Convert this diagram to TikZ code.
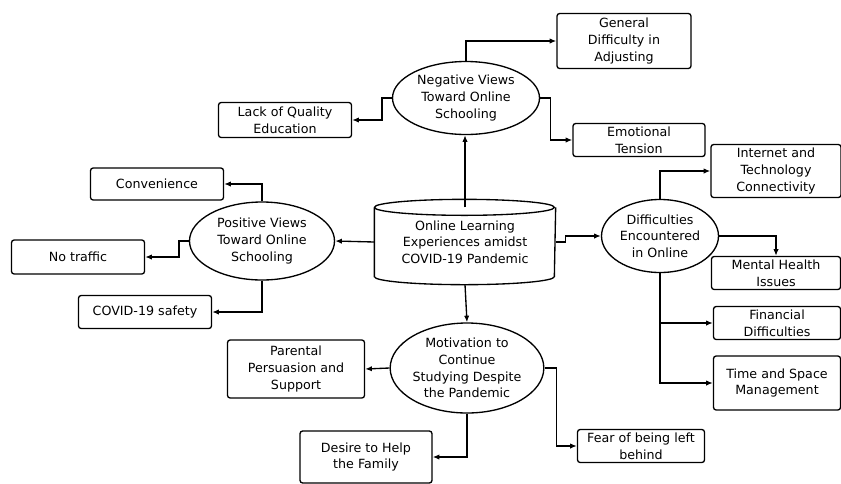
\documentclass[tikz,border=0pt]{standalone}
\usepackage{fontspec}
\setmainfont{DejaVu Sans}
\usetikzlibrary{shapes.geometric,arrows.meta}
\begin{document}
\begin{tikzpicture}[x=0.75pt,y=-0.75pt,
		every node/.style={font=\fontsize{9.5}{12.5}\selectfont, align=center, inner sep=0pt},
		themebox/.style={draw, rounded corners=2pt, minimum width=#1*0.75pt},
		themebox/.default=133,
		viewoval/.style={ellipse, draw},
		arr/.style={-{Latex[length=5pt,width=4pt]}},
		line width=1pt]
		\useasboundingbox (0,0) rectangle (841,483);
		% centre
		\node[minimum width=135pt, minimum height=51pt] (cyl) at (465,242) {Online Learning\\Experiences amidst\\COVID-19 Pandemic};
		\draw (cyl.north west) arc[start angle=180, end angle=-180, x radius=67.5pt, y radius=6pt];
		\draw (cyl.north west) -- (cyl.south west) arc[start angle=180, end angle=360, x radius=67.5pt, y radius=6pt] -- (cyl.north east);
		% themes
		\node[viewoval, minimum width=147*0.75pt, minimum height=73*0.75pt] (neg) at (466,98) {Negative Views\\Toward Online\\Schooling};
		\node[viewoval, minimum width=145*0.75pt, minimum height=78*0.75pt] (pos) at (262,241) {Positive Views\\Toward Online\\Schooling};
		\node[viewoval, minimum width=117*0.75pt, minimum height=73*0.75pt] (diff) at (660,236) {Difficulties\\Encountered\\in Online};
		\node[viewoval, minimum width=145*0.75pt, minimum height=90*0.75pt] (mot) at (467,368) {Motivation to\\Continue\\Studying Despite\\the Pandemic};
		% sub-themes
		\node[themebox=134, minimum height=55*0.75pt] (gen) at (624,41) {General\\Difficulty in\\Adjusting};
		\node[themebox, minimum height=35*0.75pt] (lack) at (285,120) {Lack of Quality\\Education};
		\node[themebox=132, minimum height=33*0.75pt] (emo) at (639,140) {Emotional\\Tension};
		\node[themebox, minimum height=32*0.75pt] (conv) at (157,184) {Convenience};
		\node[themebox, minimum height=34*0.75pt] (notr) at (78,257) {No traffic};
		\node[themebox, minimum height=33*0.75pt] (safe) at (145,312) {COVID-19 safety};
		\node[themebox=130, minimum height=53*0.75pt] (net) at (776,171) {Internet and\\Technology\\Connectivity};
		\node[themebox=129, minimum height=33*0.75pt] (ment) at (776,273) {Mental Health\\Issues};
		\node[themebox=127, minimum height=33*0.75pt] (fin) at (777,323) {Financial\\Difficulties};
		\node[themebox=127, minimum height=54*0.75pt] (time) at (777,383) {Time and Space\\Management};
		\node[themebox=137, minimum height=58*0.75pt] (par) at (296,369) {Parental\\Persuasion and\\Support};
		\node[themebox=132, minimum height=52*0.75pt] (des) at (366,457) {Desire to Help\\the Family};
		\node[themebox=127, minimum height=33*0.75pt] (fear) at (641,446) {Fear of being left\\behind};
		% connectors
		\draw[arr] (cyl.north) -- (cyl.north |- neg.south);
		\draw[arr] (neg.north) |- (gen.west);
		\draw[arr] (neg.west) -- ++(-10,0) |- (lack.east);
		\draw[arr] (neg.east) -- ++(10,0) |- (emo.west);
		\draw[arr] (cyl.west) -- (pos.east);
		\draw[arr] (pos.north) |- (conv.east);
		\draw[arr] (pos.west) -- ++(-10,0) |- (notr.east);
		\draw[arr] (pos.south) |- (safe.east);
		\draw[arr] (cyl.east) -- ++(10,0) |- (diff.west);
		\draw[arr] (diff.north) |- (net.west);
		\draw[arr] (diff.east) -| (ment.north);
		\draw[arr] (diff.south) |- (fin.west);
		\draw[arr] (diff.south) |- (time.west);
		\draw[arr] ([yshift=-6pt]cyl.south) -- (mot.north);
		\draw[arr] (mot.west) -- (par.east);
		\draw[arr] (mot.south) |- (des.east);
		\draw[arr] (mot.east) -- ++(12,0) |- (fear.west);
	\end{tikzpicture}
\end{document}
